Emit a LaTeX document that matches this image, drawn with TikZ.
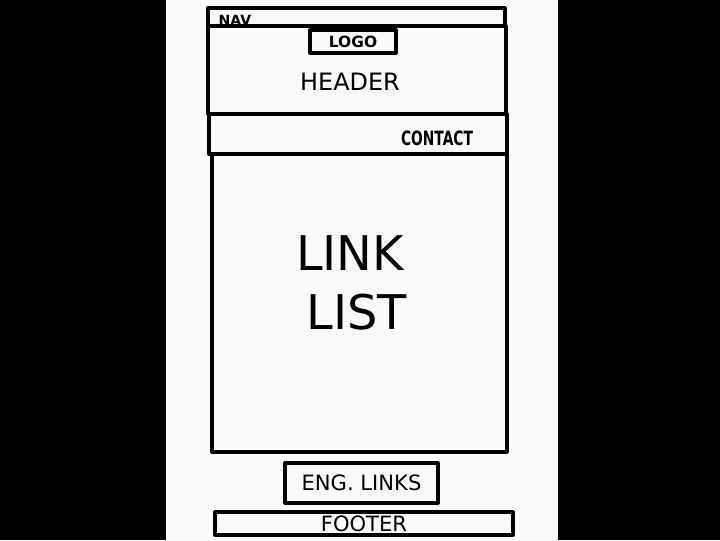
\documentclass[tikz,border=0pt]{standalone}
\usepackage{fontspec}
\setmainfont{DejaVu Sans}
\def\pxu{0.025cm}
\begin{document}
\begin{tikzpicture}[x=0.025cm, y=-0.025cm,
    box/.style={draw, line width=2.3pt, line join=round, inner sep=0pt},
    txt/.style={inner sep=0pt, text=black}]

       % paper on black
       \fill[black] (0,0) rectangle (720,540);
       \fill[gray!4] (166,0) rectangle (558,540);
       \useasboundingbox (0,0) rectangle (720,540);

       % page sections
       \node[box, minimum width=297*\pxu, minimum height=18*\pxu] (nav) at (356.5,17) {};
       \node[box, minimum width=298*\pxu, minimum height=88*\pxu] (header) at (357,70) {};
       \node[box, minimum width=298*\pxu, minimum height=40*\pxu] (contact) at (358,134) {};
       \node[box, minimum width=295*\pxu, minimum height=298*\pxu] (linklist) at (359.5,303) {};

       \node[box, minimum width=86*\pxu, minimum height=23*\pxu] (logo) at (353,41.5) {\fontsize{11}{12}\selectfont\bfseries LOGO};
       \node[box, minimum width=153*\pxu, minimum height=40*\pxu] (englinks) at (361.5,483) {\fontsize{15}{16}\selectfont ENG. LINKS};
       \node[box, minimum width=298*\pxu, minimum height=23*\pxu] (footer) at (364,523.5) {\fontsize{15}{16}\selectfont FOOTER};

       % labels
       \node[txt] (navtxt) at (235,20) {\fontsize{10}{11}\selectfont\bfseries NAV};
       \node[txt] (headertxt) at (350,82) {\fontsize{17}{18}\selectfont HEADER};
       \node[txt] (contacttxt) at (437,138) {\scalebox{0.7}[1]{\fontsize{14}{15}\selectfont\bfseries CONTACT}};
       \node[txt] (linktxt) at (350,253) {\fontsize{34}{36}\selectfont LINK};
       \node[txt] (listtxt) at (357,312) {\fontsize{34}{36}\selectfont LIST};
     \end{tikzpicture}
\end{document}
